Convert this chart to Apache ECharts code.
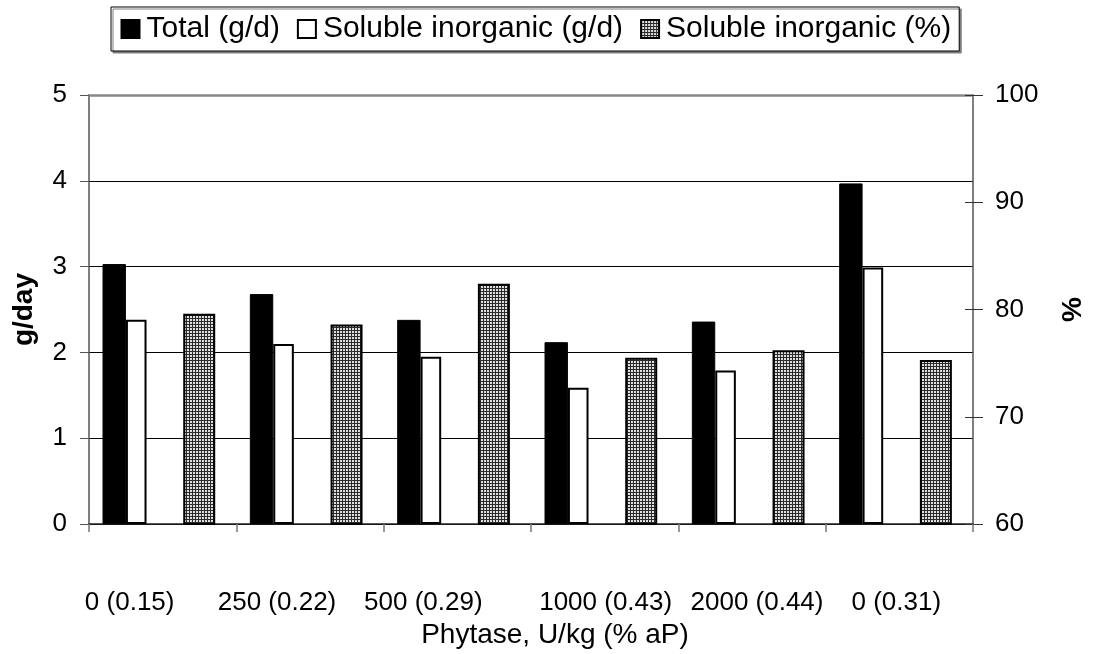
<!DOCTYPE html>
<html><head><meta charset="utf-8">
<script src="https://cdn.jsdelivr.net/npm/echarts/dist/echarts.min.js"></script>
<style>html,body{margin:0;padding:0;background:#fff}#c{width:1095px;height:654px}</style>
</head><body><div id="c"></div>
<script>
const categories = ['0 (0.15)', '250 (0.22)', '500 (0.29)', '1000 (0.43)', '2000 (0.44)', '0 (0.31)'];
const totalGd = [3.03, 2.68, 2.38, 2.12, 2.36, 3.97];
const solubleGd = [2.38, 2.10, 1.95, 1.59, 1.79, 2.99];
const solublePct = [79.6, 78.6, 82.4, 75.5, 76.2, 75.3];
const leftTicks = { min: 0, max: 5, interval: 1 };
const rightTicks = { min: 60, max: 100, interval: 10 };
const seriesNames = ['Total (g/d)', 'Soluble inorganic (g/d)', 'Soluble inorganic (%)'];
const xTitle = 'Phytase, U/kg (% aP)';
const leftTitle = 'g/day';
const rightTitle = '%';

const FONT = "'Liberation Sans', Arial, sans-serif";
function makePattern() {
  const c = document.createElement('canvas'); c.width = 3; c.height = 3;
  const g = c.getContext('2d');
  g.fillStyle = '#e0e0e0'; g.fillRect(0, 0, 3, 3);
  g.fillStyle = '#2a2a2a'; g.fillRect(0, 0, 3, 1); g.fillRect(0, 0, 1, 3);
  return c;
}
const pattern = { image: makePattern(), repeat: 'repeat' };

// horizontal shift of each category label (style only)
const labelShift = [-33, -33, -34, 1, 5, -3];
const rich = {};
labelShift.forEach((s, i) => {
  rich['s' + i] = { fontSize: 26, fontFamily: FONT, color: '#000',
    padding: s < 0 ? [0, -2 * s, 0, 0] : [0, 0, 0, 2 * s] };
});

const chart = echarts.init(document.getElementById('c'), null, { renderer: 'canvas' });
chart.setOption({
  animation: false,
  backgroundColor: '#fff',
  textStyle: { fontFamily: FONT },
  grid: { left: 89, right: 112, top: 95, bottom: 123.3, containLabel: false },
  legend: {
    data: seriesNames,
    left: 111, top: 7,
    padding: [7, 8, 7, 9.5],
    itemGap: 17, itemWidth: 18, itemHeight: 18,
    icon: 'rect',
    textStyle: { fontSize: 30, fontFamily: FONT, color: '#000', padding: [0, 0, 0, 2] },
    borderColor: '#000', borderWidth: 1, backgroundColor: '#fff',
    shadowColor: '#808080', shadowOffsetX: 2, shadowOffsetY: 2, shadowBlur: 0
  },
  xAxis: [{
    type: 'category', data: categories, position: 'bottom',
    axisLine: { lineStyle: { color: '#222', width: 1.5 } },
    axisTick: { show: true, length: 8, lineStyle: { color: '#777', width: 1.5 } },
    axisLabel: { margin: 66, interval: 0,
      formatter: (v, i) => '{s' + i + '|' + v + '}', rich: rich },
    name: xTitle, nameLocation: 'middle', nameGap: 96,
    nameTextStyle: { fontSize: 28, fontFamily: FONT, color: '#000', padding: [0, 0, 0, 48] }
  }, {
    type: 'category', data: categories, position: 'top',
    axisLine: { show: true, lineStyle: { color: '#888', width: 2.5 } },
    axisTick: { show: false }, axisLabel: { show: false }
  }],
  yAxis: [{
    type: 'value', position: 'left', min: leftTicks.min, max: leftTicks.max, interval: leftTicks.interval,
    axisLine: { show: true, lineStyle: { color: '#555', width: 1.5 } },
    axisTick: { show: true, length: 9, lineStyle: { color: '#555', width: 1 } },
    axisLabel: { fontSize: 26, fontFamily: FONT, color: '#000', margin: 22 },
    splitLine: { show: true, lineStyle: { color: ['#000', '#000', '#000', '#000', '#000', '#888'], width: 1 } },
    name: leftTitle, nameLocation: 'middle', nameGap: 51,
    nameTextStyle: { fontSize: 28, fontWeight: 'bold', fontFamily: FONT, color: '#000' }
  }, {
    type: 'value', position: 'right', min: rightTicks.min, max: rightTicks.max, interval: rightTicks.interval,
    axisLine: { show: true, lineStyle: { color: '#555', width: 1.5 } },
    axisTick: { show: true, length: 10, lineStyle: { color: '#333', width: 1 } },
    axisLabel: { fontSize: 26, fontFamily: FONT, color: '#000', margin: 22 },
    splitLine: { show: false },
    name: rightTitle, nameLocation: 'middle', nameGap: 86,
    nameTextStyle: { fontSize: 28, fontWeight: 'bold', fontFamily: FONT, color: '#000' }
  }, {
    type: 'value', position: 'right', min: rightTicks.min, max: rightTicks.max, interval: rightTicks.interval,
    axisLine: { show: false },
    axisTick: { show: true, inside: true, length: 8, lineStyle: { color: '#333', width: 1 } },
    axisLabel: { show: false }, splitLine: { show: false }
  }],
  series: [{
    name: seriesNames[0], type: 'bar', data: totalGd, barWidth: 23.4, barGap: 0,
    itemStyle: { color: '#000', borderColor: '#000', borderWidth: 1 }
  }, {
    name: seriesNames[1], type: 'bar', data: solubleGd, barWidth: 20.6, barGap: 0,
    itemStyle: { color: '#fff', borderColor: '#000', borderWidth: 2 }
  }, {
    name: 'spacer1', type: 'bar', data: [], barWidth: 36.7, barGap: 0
  }, {
    name: seriesNames[2], type: 'bar', data: solublePct, yAxisIndex: 1, barWidth: 32, barGap: 0,
    itemStyle: { color: pattern, borderColor: '#000', borderWidth: 2 }
  }, {
    name: 'spacer2', type: 'bar', data: [], barWidth: 7.6, barGap: 0
  }]
});
</script>
</body></html>
